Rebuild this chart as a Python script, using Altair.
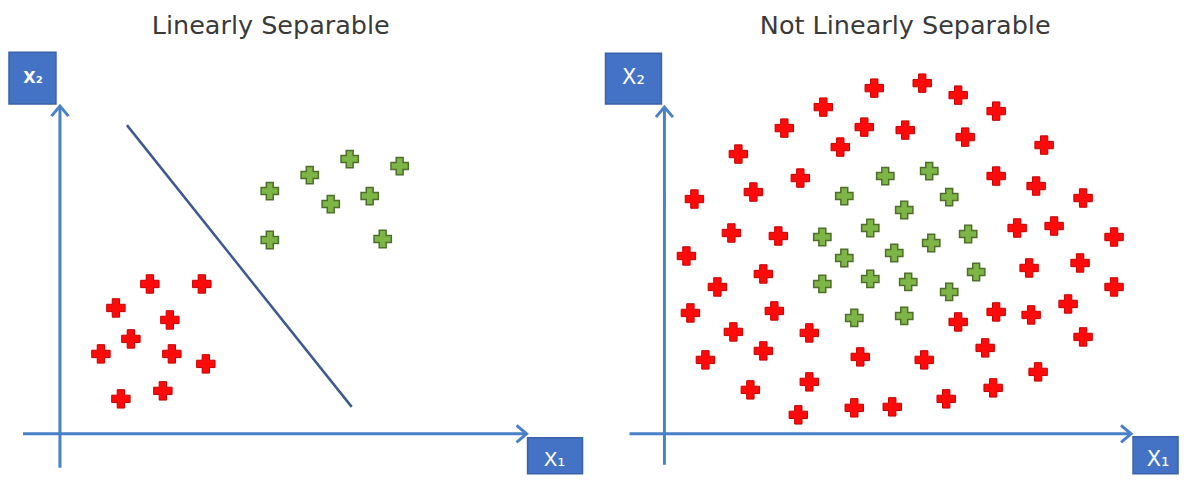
import altair as alt
import pandas as pd

TITLES = ["Linearly Separable", "Not Linearly Separable"]
AXIS_NAMES = ["X₁", "X₂"]

# Positions are in each panel's own (x1, x2) units, origin where the two axes cross.
# Left panel: "Linearly Separable"
L_RED_X1 = [90, 142, 56, 110, 71, 41, 112, 146, 61, 103]
L_RED_X2 = [150, 150, 126, 114, 95, 80, 80, 70, 35, 43]
L_GREEN_X1 = [210, 210, 250, 290, 340, 271, 310, 323]
L_GREEN_X2 = [243, 194, 259, 275, 268, 230, 238, 195]
L_BOUNDARY_X1 = [67, 292]
L_BOUNDARY_X2 = [309, 27]

# Right panel: "Not Linearly Separable"
R_RED_X1 = [210, 258, 294, 332, 159, 120, 200, 241, 301, 176, 74, 380, 136, 332, 372,
            89, 30, 419, 67, 114, 353, 390, 450, 22, 416, 365, 99, 53, 450, 26,
            110, 332, 367, 404, 294, 69, 145, 419, 99, 321, 41, 196, 260, 374, 145,
            86, 329, 282, 190, 228, 134]
R_RED_X2 = [346, 351, 339, 323, 327, 306, 307, 304, 297, 287, 280, 289, 256, 258, 248,
            242, 235, 236, 201, 198, 206, 208, 197, 178, 171, 166, 160, 147, 147, 121,
            123, 122, 119, 130, 112, 102, 101, 97, 83, 86, 74, 77, 74, 62, 52,
            44, 46, 35, 26, 27, 19]
R_GREEN_X1 = [221, 265, 180, 285, 240, 206, 158, 267, 304, 230, 180, 312, 158, 206, 244, 285, 190, 240]
R_GREEN_X2 = [258, 263, 238, 237, 224, 206, 197, 191, 200, 181, 176, 162, 150, 155, 152, 142, 116, 118]

AXIS_BLUE = "#4A80C6"
BOX_BLUE = "#4472C4"
BOX_EDGE = "#3A62A8"
LINE_NAVY = "#3D5A8E"
RED = "#FF0A0A"
RED_EDGE = "#C40000"
GREEN = "#7DB546"
GREEN_EDGE = "#4F6E2A"
TITLE_COLOR = "#3A3A3A"
FONT = "DejaVu Sans"
TITLE_FONT = "DejaVu Sans"

H = 466


def panel(width, xdom, ydom, frame, red, green, title, boundary=None):
    sx = alt.Scale(domain=xdom, nice=False, zero=False)
    sy = alt.Scale(domain=ydom, nice=False, zero=False)

    def X(f):
        return alt.X(f, type="quantitative", scale=sx, axis=None)

    def Y(f):
        return alt.Y(f, type="quantitative", scale=sy, axis=None)

    axes = pd.DataFrame({
        "x": [frame["x_from"], 0],
        "x2": [frame["x_to"], 0],
        "y": [0, frame["y_from"]],
        "y2": [0, frame["y_to"]],
    })
    axis_rules = alt.Chart(axes).mark_rule(color=AXIS_BLUE, strokeWidth=3).encode(
        x=X("x"), x2="x2", y=Y("y"), y2="y2")

    tip_r = pd.DataFrame({"x": [frame["x_to"]], "y": [0]})
    tip_u = pd.DataFrame({"x": [0], "y": [frame["y_to"]]})
    head_r = alt.Chart(tip_r).mark_point(
        shape="M -1 -0.85 L 0 0 L -1 0.85", filled=False, color=AXIS_BLUE,
        strokeWidth=3, size=400, opacity=1, strokeJoin="miter").encode(x=X("x"), y=Y("y"))
    head_u = alt.Chart(tip_u).mark_point(
        shape="M -0.85 1 L 0 0 L 0.85 1", filled=False, color=AXIS_BLUE,
        strokeWidth=3, size=400, opacity=1, strokeJoin="miter").encode(x=X("x"), y=Y("y"))

    layers = [axis_rules, head_r, head_u]

    for b in frame["boxes"]:
        bdf = pd.DataFrame([b])
        layers.append(alt.Chart(bdf).mark_rect(fill=BOX_BLUE, stroke=BOX_EDGE, strokeWidth=1.5).encode(
            x=X("x"), x2="x2", y=Y("y"), y2="y2"))
        layers.append(alt.Chart(bdf).mark_text(
            color="white", font=FONT, baseline="middle", align="center",
            fontWeight=b["fw"], fontSize=b["fs"]).encode(
            x=X("tx"), y=Y("ty"), text="label:N"))

    ttl = pd.DataFrame({"x": [frame["title_x"]], "y": [frame["title_y"]], "t": [title]})
    layers.append(alt.Chart(ttl).mark_text(
        font=TITLE_FONT, fontSize=25.5, color=TITLE_COLOR, baseline="alphabetic", align="center").encode(
        x=X("x"), y=Y("y"), text="t:N"))

    if boundary is not None:
        bd = pd.DataFrame({"x": boundary[0], "y": boundary[1]})
        layers.append(alt.Chart(bd).mark_line(color=LINE_NAVY, strokeWidth=2.5).encode(
            x=X("x"), y=Y("y")))

    rd = pd.DataFrame({"x": red[0], "y": red[1]})
    gd = pd.DataFrame({"x": green[0], "y": green[1]})
    layers.append(alt.Chart(rd).mark_point(
        shape="cross", filled=True, fill=RED, stroke=RED_EDGE, strokeWidth=1,
        size=340, opacity=1).encode(x=X("x"), y=Y("y")))
    layers.append(alt.Chart(gd).mark_point(
        shape="cross", filled=True, fill=GREEN, stroke=GREEN_EDGE, strokeWidth=1.5,
        size=300, opacity=1).encode(x=X("x"), y=Y("y")))

    return alt.layer(*layers).properties(width=width, height=H)


left_frame = {
    "x_from": -37, "x_to": 467, "y_from": -34, "y_to": 328,
    "title_x": 211, "title_y": 400,
    "boxes": [
        {"x": -51, "x2": -4, "y": 330, "y2": 382, "tx": -27, "ty": 356,
         "label": AXIS_NAMES[1], "fs": 16, "fw": "bold"},
        {"x": 468, "x2": 523, "y": -40, "y2": -4, "tx": 495, "ty": -26,
         "label": AXIS_NAMES[0], "fs": 20, "fw": "normal"},
    ],
}
right_frame = {
    "x_from": -35, "x_to": 467, "y_from": -31, "y_to": 327,
    "title_x": 241, "title_y": 400,
    "boxes": [
        {"x": -59, "x2": -3, "y": 330, "y2": 381, "tx": -31, "ty": 356,
         "label": AXIS_NAMES[1], "fs": 21, "fw": "normal"},
        {"x": 469, "x2": 514, "y": -40, "y2": -3, "tx": 494, "ty": -26,
         "label": AXIS_NAMES[0], "fs": 21, "fw": "normal"},
    ],
}

left = panel(590, [-52, 538], [-40, 426], left_frame,
             (L_RED_X1, L_RED_X2), (L_GREEN_X1, L_GREEN_X2), TITLES[0],
             boundary=(L_BOUNDARY_X1, L_BOUNDARY_X2))
right = panel(581, [-67, 514], [-40, 426], right_frame,
              (R_RED_X1, R_RED_X2), (R_GREEN_X1, R_GREEN_X2), TITLES[1])

chart = alt.hconcat(left, right, spacing=0).properties(padding=0).configure_view(stroke=None)

chart.save("out.html", embed_options={"renderer": "svg", "actions": False})
